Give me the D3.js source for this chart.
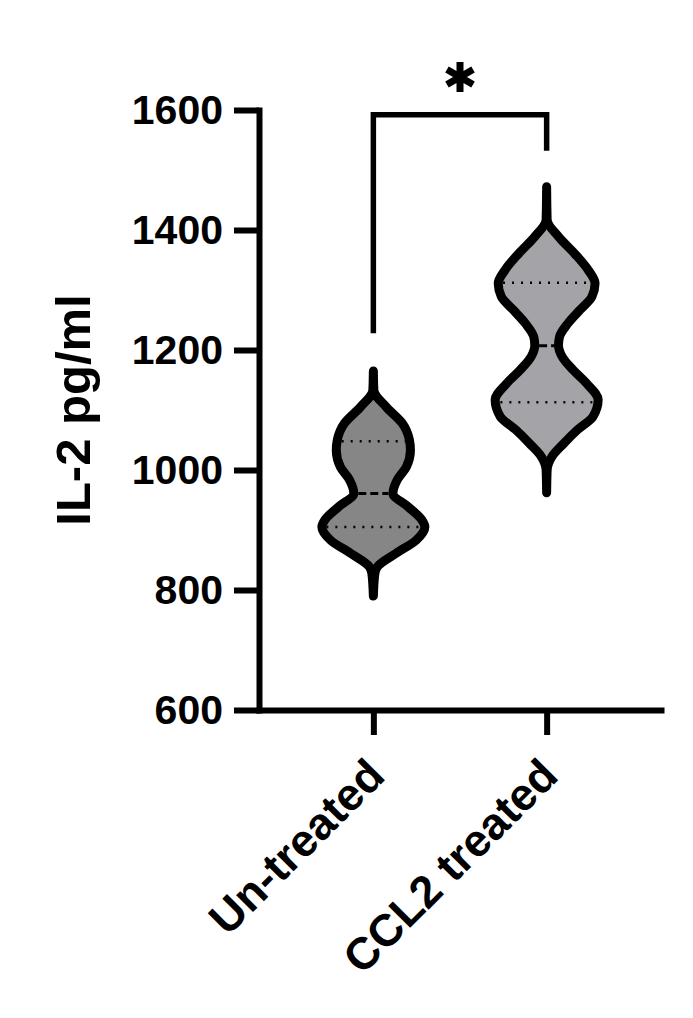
<!DOCTYPE html>
<html lang="en">
<head>
  <meta charset="UTF-8">
  <title>IL-2 violin plot</title>
  <style>
    body { margin: 0; background: #fff; }
    svg text { font-family: "Liberation Sans", Arial, sans-serif; font-weight: bold; fill: #000; }
  </style>
</head>
<body>
<div id="chart"></div>

<script src="https://cdn.jsdelivr.net/npm/d3@7"></script>
<script>
  const CATEGORIES = ['Un-treated', 'CCL2 treated'];
  const Y_TICKS = [600, 800, 1000, 1200, 1400, 1600];
  const FILLS = ['#868686', '#a4a4a8'];

  // violin outline: [IL-2 value, relative density in % of widest]
  const DENSITY_UNTREATED = [
    [1165, 0], [1133, 1], [1105, 25], [1078, 56], [1050, 70], [1033, 72], [1005, 64],
    [983, 46], [961, 38], [939, 67], [917, 94], [905, 100], [883, 83], [861, 44],
    [839, 8], [828, 3], [790, 0]
  ];
  const DENSITY_CCL2 = [
    [1472, 0], [1417, 1], [1389, 23], [1361, 54], [1333, 81], [1311, 94], [1289, 88],
    [1267, 65], [1244, 41], [1222, 25], [1208, 23], [1189, 30], [1167, 51], [1144, 78],
    [1117, 100], [1089, 90], [1067, 60], [1044, 33], [1022, 10], [1000, 1], [962, 0]
  ];

  // median and quartiles [q1, median, q3]
  const QUARTILES_UNTREATED = [905, 961, 1048];
  const QUARTILES_CCL2 = [1113, 1207, 1312];

  // significance bracket: [top, left leg end, right leg end]
  const BRACKET = [1592, 1228, 1532];
  const STAR_AT = 1655;

  const VIOLINS = [
    {cat: CATEGORIES[0], dens: DENSITY_UNTREATED, q: QUARTILES_UNTREATED, fill: FILLS[0]},
    {cat: CATEGORIES[1], dens: DENSITY_CCL2, q: QUARTILES_CCL2, fill: FILLS[1]}
  ];

  const W = 693, H = 1018;
  const svg = d3.select('#chart').append('svg')
    .attr('width', W)
    .attr('height', H);

  const y = d3.scaleLinear().domain([600, 1600]).range([710, 110]);
  const x = d3.scalePoint().domain(CATEGORIES).range([259, 661]).padding(0.66);
  const w = d3.scaleLinear().domain([0, 100]).range([0, 51.5]);

  // violins
  const area = d3.area()
    .curve(d3.curveMonotoneY)
    .y(d => y(d[0]));

  function densityAt(dens, v) {
    for (let i = 0; i < dens.length - 1; i++) {
      const a = dens[i], b = dens[i + 1];
      if ((v <= a[0] && v >= b[0])) {
        const t = (a[0] - v) / (a[0] - b[0]);
        return a[1] + t * (b[1] - a[1]);
      }
    }
    return 0;
  }

  VIOLINS.forEach(vi => {
    const cx = x(vi.cat);
    svg.append('path')
      .datum(vi.dens)
      .attr('d', area.x0(d => cx - w(d[1])).x1(d => cx + w(d[1])))
      .attr('fill', vi.fill)
      .attr('stroke', '#000')
      .attr('stroke-width', 9)
      .attr('stroke-linejoin', 'round');

    // quartile (dotted) and median (dashed) lines
    vi.q.forEach((v, i) => {
      const half = Math.max(w(densityAt(vi.dens, v)) - 4.5, 0);
      svg.append('line')
        .attr('x1', cx - half)
        .attr('x2', cx + half)
        .attr('y1', y(v))
        .attr('y2', y(v))
        .attr('stroke', '#000')
        .attr('stroke-width', i === 1 ? 3 : 2.5)
        .attr('stroke-dasharray', i === 1 ? '8 4' : '2 7');
    });
  });

  // Y axis
  const yAxis = svg.append('g')
    .attr('transform', 'translate(259,0)')
    .call(d3.axisLeft(y).tickValues(Y_TICKS).tickFormat(d3.format('d'))
      .tickSize(25).tickSizeOuter(0).tickPadding(11));
  yAxis.selectAll('path, line').attr('stroke', '#000').attr('stroke-width', 6);
  yAxis.select('.domain').attr('stroke-linecap', 'square');
  yAxis.selectAll('text').attr('font-size', 41);

  // X axis
  const xAxis = svg.append('g')
    .attr('transform', 'translate(0,710)')
    .call(d3.axisBottom(x).tickSize(25).tickSizeOuter(0));
  xAxis.selectAll('path, line').attr('stroke', '#000').attr('stroke-width', 6);
  xAxis.select('.domain').attr('stroke-linecap', 'square');
  xAxis.selectAll('text')
    .attr('y', 0)
    .attr('dy', 0)
    .attr('font-size', 45)
    .attr('text-anchor', 'end')
    .attr('transform', 'translate(13,68) rotate(-45)');

  // Y axis title
  svg.append('text')
    .attr('transform', 'translate(90,410) rotate(-90)')
    .attr('text-anchor', 'middle')
    .attr('font-size', 49)
    .text('IL-2 pg/ml');

  // significance bracket
  const x0 = x(CATEGORIES[0]), x1 = x(CATEGORIES[1]);
  svg.append('path')
    .attr('d', `M${x0},${y(BRACKET[1])}V${y(BRACKET[0])}H${x1}V${y(BRACKET[2])}`)
    .attr('fill', 'none')
    .attr('stroke', '#000')
    .attr('stroke-width', 5.5)
    .attr('stroke-linejoin', 'miter');

  svg.append('path')
    .attr('transform', `translate(${(x0 + x1) / 2},${y(STAR_AT)})`)
    .attr('d', d3.symbol(d3.symbolAsterisk, 640)())
    .attr('fill', 'none')
    .attr('stroke', '#000')
    .attr('stroke-width', 7);
</script>
</body>
</html>
